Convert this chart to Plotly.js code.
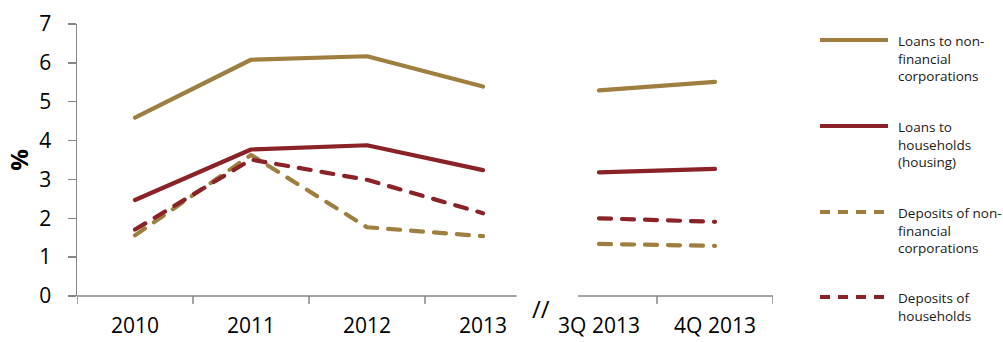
<!DOCTYPE html>
<html>
<head>
<meta charset="utf-8">
<script src="https://cdn.plot.ly/plotly-3.0.1.min.js"></script>
<style>
html, body { margin: 0; padding: 0; background: #fff; }
#chart { width: 1003px; height: 342px; }
path.js-line { stroke-linecap: round; stroke-linejoin: round; }
</style>
</head>
<body>
<div id="chart"></div>
<script>
// ---- Data ----
const yearCats = ["2010", "2011", "2012", "2013"];
const quarterCats = ["3Q 2013", "4Q 2013"];
const seriesNames = [
  "Loans to non-<br>financial<br>corporations",
  "Loans to<br>households<br>(housing)",
  "Deposits of non-<br>financial<br>corporations",
  "Deposits of<br>households"
];
const loansNFCYears = [4.59, 6.08, 6.17, 5.39];
const loansNFCQuarters = [5.29, 5.51];
const loansHHYears = [2.47, 3.77, 3.88, 3.24];
const loansHHQuarters = [3.18, 3.27];
const depNFCYears = [1.56, 3.63, 1.77, 1.54];
const depNFCQuarters = [1.34, 1.29];
const depHHYears = [1.71, 3.51, 2.99, 2.13];
const depHHQuarters = [2.00, 1.91];
const yTicks = [0, 1, 2, 3, 4, 5, 6, 7];

// ---- Styling ----
const GOLD = "#9E7F40";
const RED = "#8A2227";
const AXIS = "#868686";
const FONT = "Open Sans, sans-serif";
const seriesStyle = [
  {color: GOLD, dash: "solid"},
  {color: RED, dash: "solid"},
  {color: GOLD, dash: "12px,11px"},
  {color: RED, dash: "12px,11px"}
];
const seriesData = [
  [loansNFCYears, loansNFCQuarters],
  [loansHHYears, loansHHQuarters],
  [depNFCYears, depNFCQuarters],
  [depHHYears, depHHQuarters]
];

const allCats = yearCats.concat(quarterCats);
const yearX = yearCats.map((c, i) => i);
const quarterX = quarterCats.map((c, i) => yearCats.length + i);

const traces = [];
seriesData.forEach((pair, k) => {
  const st = seriesStyle[k];
  traces.push({
    x: yearX, y: pair[0], type: "scatter", mode: "lines",
    name: seriesNames[k], showlegend: false, hoverinfo: "x+y",
    line: {color: st.color, width: 4.2, dash: st.dash}
  });
  traces.push({
    x: quarterX, y: pair[1], type: "scatter", mode: "lines",
    name: seriesNames[k], showlegend: false, hoverinfo: "x+y",
    line: {color: st.color, width: 4.2, dash: st.dash}
  });
});

// x-axis line segments (broken) and boundary ticks
const shapes = [];
const nCats = allCats.length;
shapes.push({type: "line", xref: "x", yref: "paper", x0: -0.5, x1: 3.29, y0: 0, y1: 0,
  line: {color: AXIS, width: 1.5}});
shapes.push({type: "line", xref: "x", yref: "paper", x0: 3.82, x1: nCats - 0.5, y0: 0, y1: 0,
  line: {color: AXIS, width: 1.5}});
for (let b = 0; b <= nCats; b++) {
  const xb = b - 0.5;
  if (xb > 3.29 && xb < 3.82) continue;
  shapes.push({type: "line", xref: "x", yref: "paper", ysizemode: "pixel", yanchor: 0,
    x0: xb, x1: xb, y0: 0, y1: -8, line: {color: AXIS, width: 1.5}});
}

// Manual legend (line samples + multi-line labels) in pixel-anchored paper coords
const plotW = 696, plotH = 272, mL = 77, mT = 24;
const px = (x) => (x - mL) / plotW;
const py = (y) => 1 - (y - mT) / plotH;
const legendY = [40, 126, 212, 297];
const annotations = [];
seriesNames.forEach((nm, k) => {
  const st = seriesStyle[k];
  shapes.push({type: "line", xref: "paper", yref: "paper",
    x0: px(820), x1: px(888), y0: py(legendY[k]), y1: py(legendY[k]),
    line: {color: st.color, width: 4.2, dash: st.dash === "solid" ? "solid" : "10px,8px"}});
  annotations.push({xref: "paper", yref: "paper", x: px(896), y: py(legendY[k] - 10),
    xanchor: "left", yanchor: "top", align: "left", showarrow: false,
    text: nm, font: {family: FONT, size: 13.5, color: "#1a1a1a"}});
});
// axis break mark
annotations.push({xref: "x", yref: "paper", x: 3.5, y: py(308), xanchor: "center", yanchor: "middle",
  showarrow: false, text: "//", font: {family: FONT, size: 24, color: "#000"}});

const layout = {
  width: 1003, height: 342,
  margin: {l: mL, r: 1003 - mL - plotW, t: mT, b: 342 - mT - plotH, pad: 0},
  paper_bgcolor: "#fff", plot_bgcolor: "#fff",
  showlegend: false,
  font: {family: FONT, color: "#000"},
  xaxis: {
    range: [-0.5, nCats - 0.5], tickmode: "array", tickvals: allCats.map((c, i) => i),
    ticktext: allCats, ticks: "", showline: false, showgrid: false, zeroline: false,
    tickfont: {family: FONT, size: 21, color: "#000"}, ticklabelstandoff: 15,
    fixedrange: true
  },
  yaxis: {
    range: [0, 7], tickmode: "array", tickvals: yTicks, ticktext: yTicks.map(String),
    ticks: "outside", ticklen: 8, tickwidth: 1.5, tickcolor: AXIS,
    showline: true, linecolor: AXIS, linewidth: 1.5, showgrid: false, zeroline: false,
    tickfont: {family: FONT, size: 21, color: "#000"}, ticklabelstandoff: 12,
    title: {text: "<b>%</b>", font: {family: FONT, size: 24, color: "#000"}, standoff: 4},
    automargin: false, fixedrange: true
  },
  shapes: shapes,
  annotations: annotations
};

Plotly.newPlot("chart", traces, layout, {displayModeBar: false, staticPlot: true});
</script>
</body>
</html>
